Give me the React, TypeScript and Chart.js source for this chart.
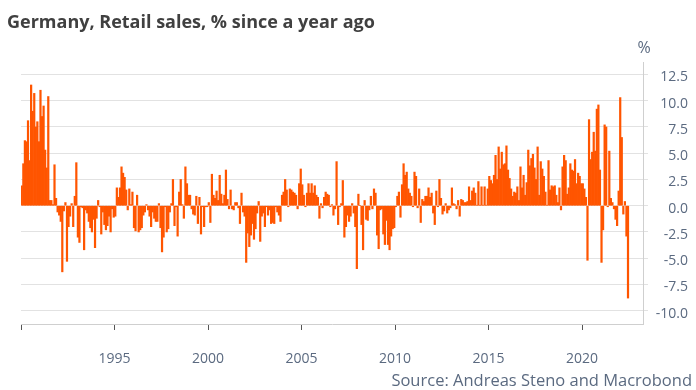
import React, { useEffect, useRef } from 'react';
import { Chart, registerables } from 'chart.js';

Chart.register(...registerables);

// Monthly data, % change on a year ago, starting January 1990
const START_YEAR = 1990;

const retail1990s = [
  1.9, 4.0, 6.2, 6.1, 8.1, 4.3, 11.5, 9.0, 10.7, 7.5, 8.0, 6.1,
  11.0, 8.5, 9.5, 5.3, 3.6, 10.4, 0.5, 0.5, 0.1, 3.9, 0.7, -0.6,
  -0.9, -1.5, -6.3, -0.5, 0.3, -5.3, -2.0, -1.0, 0.2, -2.0, 0.9, 4.1,
  -3.0, -3.5, -0.1, -0.2, -4.2, -0.4, -0.7, -1.5, -2.1, -2.5, -1.3, -4.0,
  -1.2, 0.5, -0.1, -2.7, -0.6, -1.8, -2.3, -1.9, -1.0, -2.5, -0.3, -1.1,
  -1.0, 1.7, 0.8, 1.7, 3.7, 3.1, 2.7, 1.5, -0.4, 1.6, 0.1, 1.3,
  -2.1, -2.4, 1.0, -2.5, -2.3, -2.1, -0.9, -0.6, 0.1, -0.4, -1.0, -2.0,
  -0.6, -1.2, -1.5, -1.5, 0.2, -2.1, -4.4, -3.0, -0.1, -2.5, -2.2, -0.6,
  0.2, 2.5, -1.9, -0.1, -2.9, 1.3, 2.5, 0.1, -1.2, 3.7, 2.1, 1.0,
  1.0, -0.3, -0.8, -0.9, 0.9, -1.7, 0.8, -2.7, -0.1, -2.0, -0.1, -0.1,
];

const retail2000s = [
  0.3, -1.6, 3.0, 1.0, 0.7, 1.4, 0.5, 2.9, 1.1, 0.2, 1.0, 3.4,
  0.6, -0.3, 1.5, -0.3, -0.4, 0.3, 0.3, -0.2, -1.7, 1.2, -0.6, -1.0,
  -5.4, -2.6, -3.9, -2.8, -1.7, -3.2, -2.2, -0.7, 0.4, -3.4, -1.0, -0.7,
  -2.0, -0.1, -0.9, -0.4, -1.7, -1.6, -1.7, -0.1, -0.6, -0.9, -1.5, 1.0,
  1.3, 2.5, 1.5, -0.1, 1.6, 1.5, 1.3, 1.2, 1.0, -0.3, 2.1, 3.5,
  2.0, 1.0, -0.1, 1.2, 2.1, 1.2, 2.1, 1.2, 1.9, 1.0, 0.8, -1.2,
  0.2, -0.2, 0.8, 1.3, 1.1, 1.0, -0.1, 0.1, -0.9, -0.3, 4.2, -1.8,
  -0.1, 0.2, 2.4, -3.0, -2.0, -0.9, -1.5, -1.0, 0.2, -0.7, -2.0, -6.0,
  1.1, 0.0, -1.8, -4.2, 0.5, -1.3, -1.4, -0.4, 0.9, -0.3, 1.6, 1.2,
  -2.8, -4.1, -0.4, -0.3, -2.7, -3.7, -1.4, -3.7, -4.2, -2.9, -2.2, -2.1,
];

const retail2010s = [
  -0.1, 0.9, 1.3, -1.1, 2.0, 4.0, 2.9, 3.2, 1.6, 1.2, 0.9, -0.1,
  3.2, 2.8, -0.2, 1.6, -1.6, 0.6, 0.4, 0.9, 0.9, 1.7, 0.8, 1.2,
  -0.7, -1.8, 1.4, -0.1, 2.5, 0.7, -0.8, -0.5, 0.2, -0.7, -0.4, -0.2,
  1.7, 0.2, 0.1, -0.3, 0.5, -1.0, 0.6, 0.5, 0.3, 0.3, 0.4, 1.8,
  0.5, 1.4, 1.7, 1.2, 0.05, 2.3, 0.05, 1.8, 0.05, 1.8, 0.05, 1.6,
  2.8, 2.4, 2.1, 2.9, 4.8, 2.5, 5.6, 3.5, 5.1, 3.9, 4.0, 5.7,
  3.4, 2.6, 1.6, 0.9, 1.3, 1.2, 1.8, 0.5, 3.7, 1.7, 2.9, 1.0,
  2.2, 5.3, 3.8, 4.5, 4.9, 3.6, 2.5, 5.6, 1.0, 4.2, 3.5, 2.8,
  1.3, 0.05, 4.3, 1.5, 1.9, 1.8, 1.9, 1.0, 0.3, 1.7, -0.4, 3.7,
  4.8, 4.3, 1.1, 1.7, 4.0, 3.4, 3.3, 4.4, 2.1, 3.1, 2.8, 2.1,
];

const retail2020s = [
  2.1, 1.6, 0.8, -5.2, 8.2, 4.4, 5.1, 7.0, 5.2, 9.2, 9.6, 3.4,
  -5.4, -2.3, 7.7, 7.5, -0.1, 5.2, 0.7, 0.3, -0.3, -1.3, -1.9, 1.4,
  10.3, 6.5, -0.8, 0.4, -2.9, -8.8,
];

const yTickValues = [-10, -7.5, -5, -2.5, 0, 2.5, 5, 7.5, 10, 12.5];
const xTickYears = [1990, 1995, 2000, 2005, 2010, 2015, 2020];
const xLabelledYears = [1995, 2000, 2005, 2010, 2015, 2020];

const TITLE = 'Germany, Retail sales, % since a year ago';
const SOURCE = 'Source: Andreas Steno and Macrobond';
const UNIT = '%';

const FONT = "'Open Sans', 'Noto Sans', sans-serif";
const LABEL_COLOR = '#5b6a80';
const BAR_COLOR = '#FF5500';

export default function App() {
  const canvasRef = useRef<HTMLCanvasElement>(null);

  useEffect(() => {
    const values = [...retail1990s, ...retail2000s, ...retail2010s, ...retail2020s];
    const points = values.map((v, i) => ({ x: START_YEAR + (i + 0.5) / 12, y: v }));

    const chart = new Chart(canvasRef.current as HTMLCanvasElement, {
      type: 'bar',
      data: {
        datasets: [
          {
            data: points as any,
            backgroundColor: BAR_COLOR,
            borderWidth: 0,
            barPercentage: 1,
            categoryPercentage: 1,
          },
        ],
      },
      options: {
        animation: false,
        responsive: false,
        maintainAspectRatio: false,
        layout: { padding: { left: 16, top: 62, right: 8, bottom: 0 } },
        plugins: { legend: { display: false }, tooltip: { enabled: false }, title: { display: false } },
        scales: {
          x: {
            type: 'linear',
            offset: false,
            min: 1990,
            max: 2023.26,
            afterBuildTicks: (s: any) => {
              s.ticks = xTickYears.map((v) => ({ value: v }));
            },
            afterFit: (s: any) => {
              s.height = 66;
            },
            grid: {
              offset: false,
              drawOnChartArea: false,
              drawTicks: true,
              tickLength: 6,
              tickColor: '#555',
            },
            border: { display: true, color: '#cfcfcf' },
            ticks: {
              autoSkip: false,
              maxRotation: 0,
              padding: 21,
              color: LABEL_COLOR,
              font: { family: FONT, size: 14 },
              callback: (v: any) => (xLabelledYears.includes(Number(v)) ? String(v) : ''),
            },
          },
          y: {
            position: 'right',
            min: -11.27,
            max: 13.69,
            afterBuildTicks: (s: any) => {
              s.ticks = yTickValues.map((v) => ({ value: v }));
            },
            afterFit: (s: any) => {
              s.width = 45;
            },
            grid: { color: '#e2e2e2', tickLength: 5 },
            border: { display: true, color: '#cfcfcf' },
            ticks: {
              crossAlign: 'far',
              padding: 0,
              labelOffset: 3,
              color: LABEL_COLOR,
              font: { family: FONT, size: 14 },
              callback: (v: any) => Number(v).toFixed(1),
            },
          },
        },
      },
    } as any);

    return () => chart.destroy();
  }, []);

  return (
    <div
      style={{
        position: 'absolute',
        left: 0,
        top: 0,
        width: 696,
        height: 390,
        background: '#fff',
        overflow: 'hidden',
        fontFamily: FONT,
      }}
    >
      <canvas ref={canvasRef} width={696} height={390} style={{ position: 'absolute', left: 0, top: 0, width: 696, height: 390 }} />
      <div
        style={{
          position: 'absolute',
          left: 7,
          top: 10,
          fontSize: 18,
          lineHeight: '22px',
          fontWeight: 700,
          color: '#404040',
          whiteSpace: 'nowrap',
        }}
      >
        {TITLE}
      </div>
      <div
        style={{
          position: 'absolute',
          left: 631,
          width: 26,
          top: 36,
          textAlign: 'center',
          fontSize: 16,
          lineHeight: '22px',
          color: LABEL_COLOR,
        }}
      >
        {UNIT}
      </div>
      <div
        style={{
          position: 'absolute',
          right: 4,
          top: 369,
          fontSize: 16.5,
          lineHeight: '22px',
          color: LABEL_COLOR,
          whiteSpace: 'nowrap',
        }}
      >
        {SOURCE}
      </div>
    </div>
  );
}
